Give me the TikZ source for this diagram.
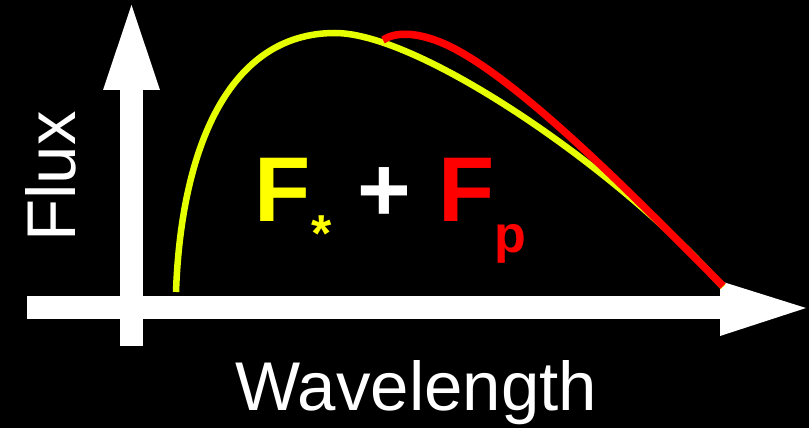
\documentclass[tikz,border=0pt]{standalone}
\usepackage{fontspec}
\setmainfont{Liberation Sans}
\definecolor{curveyellow}{RGB}{230,255,0}
\definecolor{textyellow}{RGB}{255,255,0}
\definecolor{fred}{RGB}{255,0,0}
\begin{document}
\begin{tikzpicture}[x=1pt,y=-1pt,
  axisfill/.style={fill=white,draw=none},
  bigsym/.style={inner sep=0pt,anchor=base west,font=\bfseries\fontsize{92}{92}\selectfont},
  subsym/.style={inner sep=0pt,anchor=base west,font=\bfseries\fontsize{52}{52}\selectfont},
  axlabel/.style={inner sep=0pt,anchor=base west,text=white,font=\fontsize{69}{69}\selectfont}]
\fill[black] (0,0) rectangle (809,428);
\useasboundingbox (0,0) rectangle (809,428);
% vertical axis
\fill[axisfill] (120,346) rectangle (143,89);
\fill[axisfill] (103,90) -- (160,90) -- (131.5,5) -- cycle;
% horizontal axis
\fill[axisfill] (27,296) rectangle (721,319);
\fill[axisfill] (720,281) -- (720,336) -- (806,308) -- cycle;
% curves
\coordinate (ys) at (176,292);
\coordinate (ypk) at (335,33);
\coordinate (ye) at (723,287);
\draw[curveyellow,line width=6.5pt] (ys) .. controls (181,150) and (228,33) .. (ypk)
  .. controls (420,33) and (620,170) .. (ye);
\coordinate (rs) at (383,40);
\coordinate (rm) at (440,42);
\coordinate (re) at (723,286);
\draw[fred,line width=7.5pt] (rs) .. controls (395,32) and (415,32) .. (rm)
  .. controls (515,72) and (650,213) .. (re);
% labels
\node[bigsym,text=textyellow] (fs) at (254,221) {F};
\node[subsym,text=textyellow] (star) at (311,251) {*};
\node[bigsym,text=white] (plus) at (357,221) {+};
\node[bigsym,text=fred] (fp) at (438,221) {F};
\node[subsym,text=fred] (p) at (494,252) {p};
\node[axlabel,rotate=90] (flux) at (75,242) {Flux};
\node[axlabel] (wl) at (235,410) {Wavelength};
\end{tikzpicture}
\end{document}
